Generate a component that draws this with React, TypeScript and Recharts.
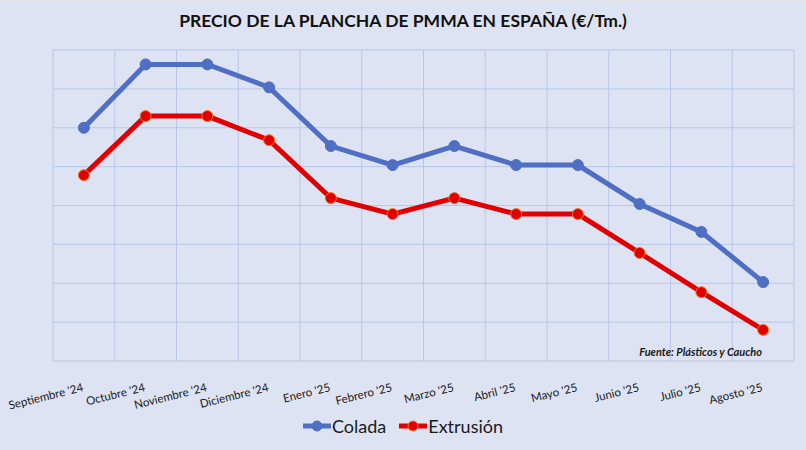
import React from "react";
import { LineChart, Line, XAxis, YAxis, CartesianGrid } from "recharts";

const MONTHS = [
  "Septiembre '24",
  "Octubre '24",
  "Noviembre '24",
  "Diciembre '24",
  "Enero '25",
  "Febrero '25",
  "Marzo '25",
  "Abril '25",
  "Mayo '25",
  "Junio '25",
  "Julio '25",
  "Agosto '25",
];

const COLADA = [6.0, 7.63, 7.63, 7.04, 5.53, 5.04, 5.53, 5.04, 5.04, 4.04, 3.32, 2.03];
const EXTRUSION = [4.78, 6.3, 6.3, 5.68, 4.19, 3.78, 4.19, 3.78, 3.78, 2.78, 1.77, 0.8];

const Y_TICKS = [0, 1, 2, 3, 4, 5, 6, 7, 8];

const data = MONTHS.map((m, i) => ({ month: m, colada: COLADA[i], extrusion: EXTRUSION[i] }));

const BG = "#dee3f3";
const GRID = "#b7c6ea";
const BLUE = "#4f6fc4";
const RED = "#e00000";
const FONT = "Lato, 'Open Sans', sans-serif";

const PLOT_W = 741;
const HALF_BAND = PLOT_W / MONTHS.length / 2;

function MonthTick({ x, y, payload }: any) {
  return (
    <text
      x={x}
      y={y + 22}
      textAnchor="end"
      fontSize={11.5}
      fontFamily={FONT}
      fill="#1a1a1a"
      transform={`rotate(-14, ${x}, ${y + 22})`}
    >
      {payload.value}
    </text>
  );
}

function LegendBox() {
  const items = [
    { label: "Colada", color: BLUE, stroke: BLUE },
    { label: "Extrusión", color: RED, stroke: "#f07a20" },
  ];
  return (
    <div style={{ display: "flex", justifyContent: "center", gap: 13, fontFamily: FONT, fontSize: 18, color: "#1a1a1a" }}>
      {items.map((it) => (
        <div key={it.label} style={{ display: "flex", alignItems: "center" }}>
          <svg width={28} height={14}>
            <line x1={0} y1={7} x2={28} y2={7} stroke={it.color} strokeWidth={5} />
            <circle cx={14} cy={7} r={5} fill={it.color} stroke={it.stroke} strokeWidth={1} />
          </svg>
          <span style={{ marginLeft: 1 }}>{it.label}</span>
        </div>
      ))}
    </div>
  );
}

export default function App() {
  return (
    <div style={{ position: "absolute", left: 0, top: 0, width: 806, height: 450, background: BG }}>
      <div style={{ position: "absolute", left: 0, top: 0, width: 806, height: 2, background: "#e4e4e4" }} />
      <div
        style={{
          position: "absolute",
          left: 0,
          top: 10,
          width: 806,
          textAlign: "center",
          fontFamily: FONT,
          fontWeight: 700,
          fontSize: 17.5,
          color: "#111",
        }}
      >
        PRECIO DE LA PLANCHA DE PMMA EN ESPAÑA (€/Tm.)
      </div>
      <LineChart width={806} height={450} data={data} margin={{ top: 50, right: 12, bottom: 0, left: 53 }}>
        <CartesianGrid
          stroke={GRID}
          strokeWidth={1}
          verticalCoordinatesGenerator={({ offset }: any) =>
            MONTHS.map((_, i) => offset.left + (i * offset.width) / MONTHS.length).concat(offset.left + offset.width)
          }
        />
        <XAxis
          dataKey="month"
          interval={0}
          tick={<MonthTick />}
          tickLine={false}
          axisLine={{ stroke: "#d5cdd8" }}
          height={89}
          padding={{ left: HALF_BAND, right: HALF_BAND }}
        />
        <YAxis hide domain={[0, 8]} ticks={Y_TICKS} />
        <Line
          dataKey="colada"
          stroke={BLUE}
          strokeWidth={5}
          dot={{ r: 5.5, fill: BLUE, stroke: BLUE, strokeWidth: 1 }}
          isAnimationActive={false}
        />
        <Line
          dataKey="extrusion"
          stroke={RED}
          strokeWidth={5}
          dot={{ r: 5.5, fill: RED, stroke: "#f07a20", strokeWidth: 1 }}
          isAnimationActive={false}
        />
      </LineChart>
      <div style={{ position: "absolute", left: 0, top: 415, width: 806 }}>
        <LegendBox />
      </div>
      <div
        style={{
          position: "absolute",
          right: 44,
          top: 345,
          fontFamily: FONT,
          fontStyle: "italic",
          fontWeight: 700,
          fontSize: 11,
          color: "#1a1a1a",
        }}
      >
        Fuente: Plásticos y Caucho
      </div>
    </div>
  );
}
